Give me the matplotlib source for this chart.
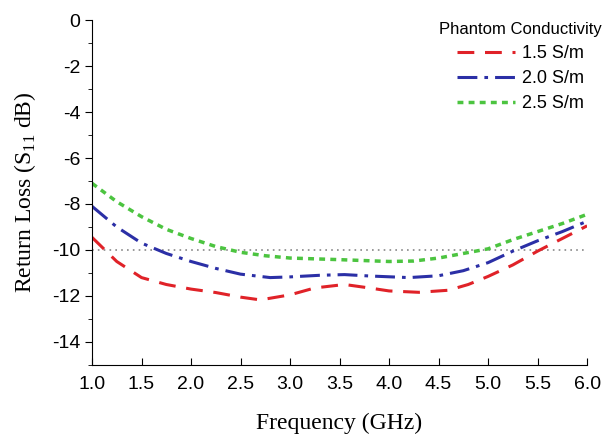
import matplotlib
matplotlib.use("Agg")
import matplotlib.pyplot as plt
from matplotlib.ticker import MultipleLocator, FormatStrFormatter

plt.rcParams['font.family'] = ['Liberation Sans', 'DejaVu Sans']
plt.rcParams['mathtext.fontset'] = 'custom'
plt.rcParams['mathtext.rm'] = 'Liberation Serif'
plt.rcParams['axes.unicode_minus'] = False

freq_red = [1.0, 1.25, 1.5, 1.75, 2.0, 2.25, 2.5, 2.7, 3.0, 3.25, 3.55, 3.8, 4.0, 4.3, 4.6, 4.8, 5.0, 5.25, 5.5, 5.75, 6.0]
s11_red = [-9.45, -10.5, -11.2, -11.5, -11.7, -11.85, -12.05, -12.17, -11.95, -11.65, -11.5, -11.65, -11.78, -11.84, -11.75, -11.5, -11.15, -10.65, -10.05, -9.5, -8.95]

freq_blue = [1.0, 1.25, 1.5, 1.75, 2.0, 2.25, 2.5, 2.8, 3.0, 3.3, 3.55, 3.8, 4.2, 4.5, 4.75, 5.0, 5.25, 5.5, 5.75, 6.0]
s11_blue = [-8.1, -9.0, -9.7, -10.15, -10.5, -10.8, -11.05, -11.2, -11.17, -11.1, -11.07, -11.13, -11.2, -11.12, -10.9, -10.55, -10.05, -9.6, -9.2, -8.75]

freq_green = [1.0, 1.25, 1.5, 1.75, 2.0, 2.25, 2.5, 2.75, 3.0, 3.5, 4.0, 4.25, 4.5, 4.75, 5.0, 5.25, 5.5, 5.75, 6.0]
s11_green = [-7.1, -7.9, -8.55, -9.1, -9.5, -9.85, -10.1, -10.25, -10.35, -10.42, -10.5, -10.48, -10.35, -10.15, -9.95, -9.55, -9.2, -8.85, -8.45]

labels = ['1.5 S/m', '2.0 S/m', '2.5 S/m']
threshold = -10

fig = plt.figure(figsize=(6.15, 4.4), dpi=100)
ax = fig.add_axes([0.1496, 0.1705, 0.805, 0.784])

ax.axhline(threshold, color='#888888', lw=1.2, ls=(0, (1, 2.5)), zorder=1)
ax.plot(freq_red, s11_red, color='#e02228', lw=2.2, ls=(0, (5.5, 3.5)), label=labels[0])
ax.plot(freq_blue, s11_blue, color='#2b2fa6', lw=2.2, ls=(0, (6.5, 2.3, 1.2, 2.3)), label=labels[1])
ax.plot(freq_green, s11_green, color='#4cc440', lw=2.5, ls=(0, (1.7, 1.5)), label=labels[2])

ax.set_xlim(1.0, 6.0)
ax.set_ylim(-15, 0)
ax.xaxis.set_major_locator(MultipleLocator(0.5))
ax.set_yticks([0, -2, -4, -6, -8, -10, -12, -14])
ax.yaxis.set_minor_locator(MultipleLocator(1))
ax.spines['top'].set_visible(False)
ax.spines['right'].set_visible(False)
ax.tick_params(axis='x', direction='in', length=5, labelsize=14, pad=8)
ax.tick_params(axis='y', which='major', direction='out', length=5, labelsize=14)
ax.tick_params(axis='y', which='minor', direction='out', length=3)
ax.xaxis.set_major_formatter(FormatStrFormatter('%.1f'))

ax.set_xlabel('Frequency (GHz)', family='Liberation Serif', fontsize=17, labelpad=14)
ax.set_ylabel('Return Loss (S$_{11}$ dB)', family='Liberation Serif', fontsize=17, labelpad=10)

leg = ax.legend(title='Phantom Conductivity', loc='upper right', frameon=False,
                fontsize=13, title_fontsize=12, handlelength=3.2, handletextpad=0.4,
                labelspacing=0.45, borderaxespad=0.0, bbox_to_anchor=(1.045, 1.015))

fig.savefig('out.png', dpi=100)
